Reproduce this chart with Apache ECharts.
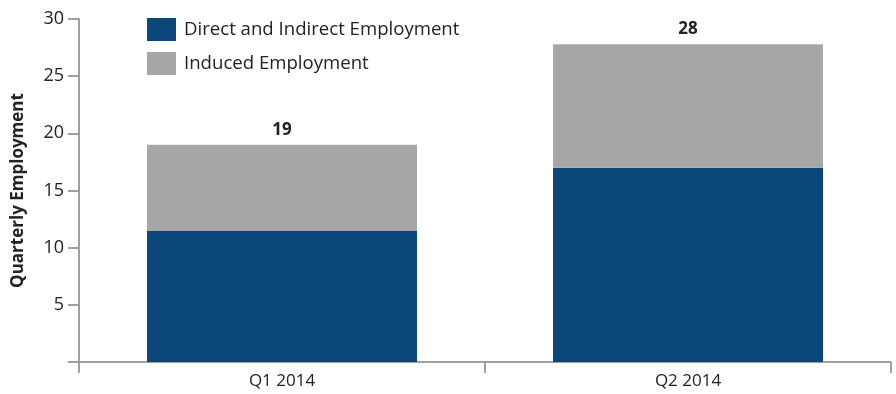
<!DOCTYPE html>
<html>
<head>
<meta charset="utf-8">
<script src="https://cdn.jsdelivr.net/npm/echarts@6/dist/echarts.min.js"></script>
<style>html,body{margin:0;padding:0;background:#fff;}#c{width:896px;height:394px;}</style>
</head>
<body>
<div id="c"></div>
<script>
const categories = ['Q1 2014', 'Q2 2014'];
const directIndirect = [11.5, 17.0];
const induced = [7.5, 10.8];
const totalLabels = ['19', '28'];
const yTicks = [0, 5, 10, 15, 20, 25, 30];

const FONT = '"Open Sans", "Noto Sans", sans-serif';
const chart = echarts.init(document.getElementById('c'));
chart.setOption({
  animation: false,
  textStyle: { fontFamily: FONT },
  grid: { left: 79, right: 5, top: 19, bottom: 32, containLabel: false },
  legend: {
    orient: 'vertical', left: 142, top: 13,
    itemWidth: 29, itemHeight: 23, itemGap: 11,
    icon: 'rect',
    textStyle: { fontSize: 18.6, color: '#222', fontFamily: FONT, padding: [0, 0, 0, 3] },
    data: ['Direct and Indirect Employment', 'Induced Employment']
  },
  xAxis: {
    type: 'category', data: categories,
    axisLine: { lineStyle: { color: '#a0a0a0', width: 2 } },
    axisTick: { show: true, length: 11, lineStyle: { color: '#a0a0a0', width: 2 } },
    axisLabel: { fontSize: 17, color: '#222', margin: 11, fontFamily: FONT }
  },
  yAxis: {
    type: 'value', min: 0, max: 30, interval: 5,
    name: 'Quarterly Employment', nameLocation: 'middle', nameGap: 52,
    nameTextStyle: { fontSize: 17, fontWeight: 'bold', color: '#222', fontFamily: FONT },
    axisLine: { show: true, lineStyle: { color: '#a0a0a0', width: 2 } },
    axisTick: { show: true, length: 11, lineStyle: { color: '#a0a0a0', width: 2 } },
    axisLabel: { fontSize: 18, color: '#222', margin: 15, fontFamily: FONT,
      formatter: v => (v === 0 ? '' : String(v)) },
    splitLine: { show: false }
  },
  series: [
    { name: 'Direct and Indirect Employment', type: 'bar', stack: 'a', data: directIndirect,
      barWidth: '66.5%', itemStyle: { color: '#0B477B' } },
    { name: 'Induced Employment', type: 'bar', stack: 'a', data: induced,
      barWidth: '66.5%', itemStyle: { color: '#A6A6A6' },
      label: { show: true, position: 'top', distance: 6, fontSize: 17, fontWeight: 'bold',
        color: '#222', fontFamily: FONT, formatter: p => totalLabels[p.dataIndex] } }
  ]
});
</script>
</body>
</html>
